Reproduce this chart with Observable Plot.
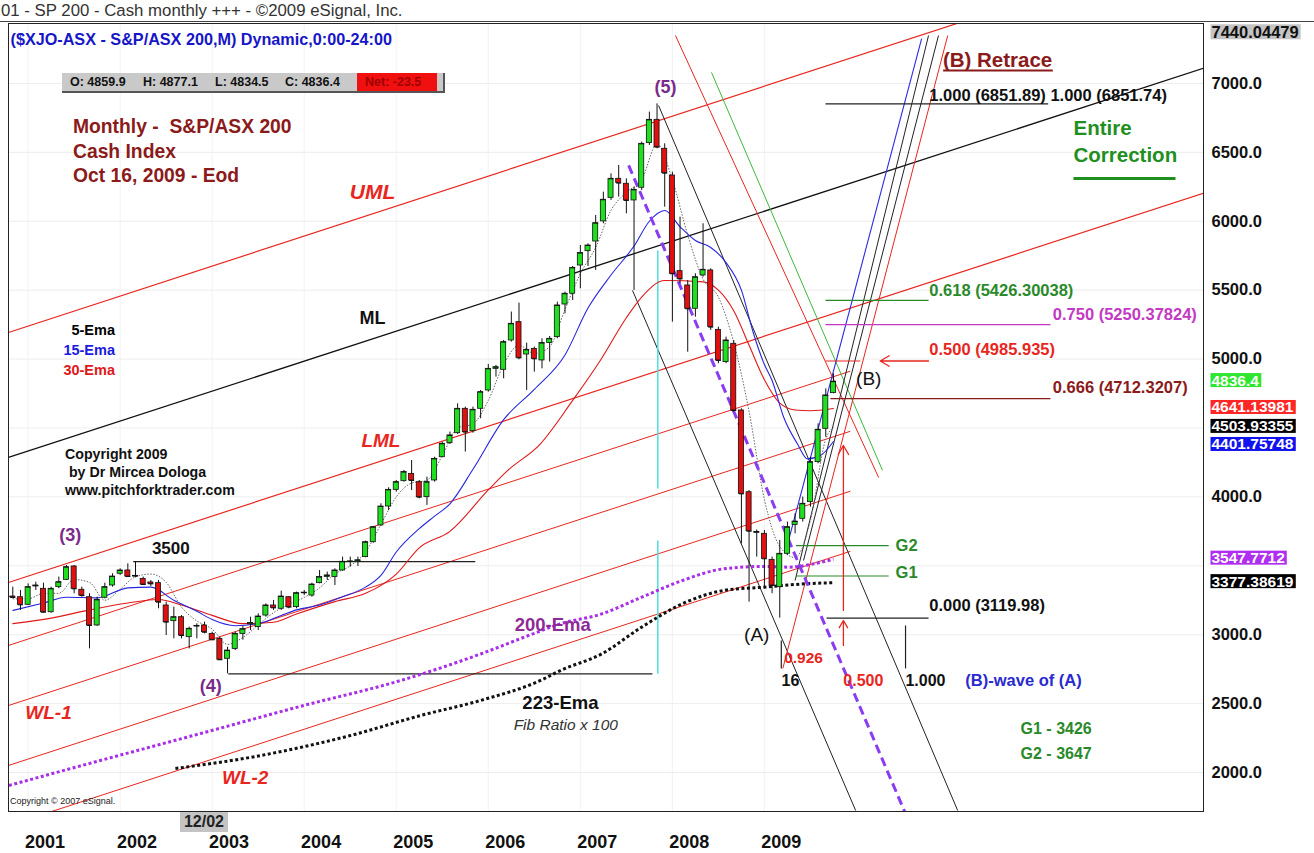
<!DOCTYPE html>
<html><head><meta charset="utf-8">
<script src="https://cdn.jsdelivr.net/npm/d3@7"></script>
<script src="https://cdn.jsdelivr.net/npm/@observablehq/plot@0.6"></script>
<style>
body{margin:0;background:#fff;font-family:"Liberation Sans",Arial,sans-serif;}
#wrap{position:relative;width:1314px;height:853px;overflow:hidden;background:#fff}
#hdr{height:22px;line-height:22px;padding-left:1px;font-size:16.8px;color:#333;border-bottom:1px solid #444;box-sizing:border-box;white-space:nowrap}
#chart{height:831px}
.ov{position:absolute;white-space:nowrap;font-family:"Liberation Sans",Arial,sans-serif}
</style></head>
<body><div id="wrap">
<div id="hdr">01 - SP 200 - Cash monthly +++ - ©2009 eSignal, Inc.</div>
<div id="chart"></div>
<div class="ov" style="left:73px;top:115px;font-weight:bold;font-size:19.3px;color:#8b1a1a;line-height:24.5px">Monthly -&nbsp; S&amp;P/ASX 200<br>Cash Index<br>Oct 16, 2009 - Eod</div>
<div class="ov" style="left:0;width:115px;text-align:right;top:320px;font-weight:bold;font-size:14.5px;line-height:20px"><span style="color:#000">5-Ema</span><br><span style="color:#1a1ae0">15-Ema</span><br><span style="color:#e01818">30-Ema</span></div>
<div class="ov" style="left:65px;top:445px;font-weight:bold;font-size:14.2px;line-height:18px;color:#111">Copyright 2009<br>&nbsp;by Dr Mircea Dologa<br>www.pitchforktrader.com</div>
<div class="ov" style="left:10px;top:796px;font-size:9px;color:#222">Copyright © 2007 eSignal.</div>
<div class="ov" style="left:62px;top:73px;width:381px;height:18px;background:#c9c9c9;border-right:2px solid #555;border-bottom:2px solid #555;font-weight:bold;font-size:12.5px;line-height:18px;color:#111">
<span style="position:absolute;left:8px">O: 4859.9</span><span style="position:absolute;left:81px">H: 4877.1</span><span style="position:absolute;left:153px">L: 4834.5</span><span style="position:absolute;left:223px">C: 4836.4</span><span style="position:absolute;left:295px;width:80px;height:18px;background:#f01010;color:#a00000;padding-left:8px;box-sizing:border-box">Net: -23.5</span></div>
<div class="ov" style="left:180px;top:812px;width:48px;height:20px;background:#c4c4c4;text-align:center;font-family:'Liberation Sans Narrow','Arial Narrow','Liberation Sans',sans-serif;font-weight:bold;font-size:16px;line-height:20px;color:#222">12/02</div>
</div>
<script>
// ---------- DATA (monthly candles, Nov 2000 .. Oct 2009; month index m = i - 2, m=0 is Jan 2001) ----------
const opens = [3277,3272,3217,3350,3333,3163,3345,3398,3495,3326,
3272,3067,3268,3357,3442,3466,3422,3405,3379,3374,
3212,3098,3127,2982,3060,3067,3006,2968,2825,2897,
3006,3075,3055,3139,3212,3188,3272,3200,3301,3284,
3374,3418,3418,3466,3529,3530,3563,3671,3793,3930,
4051,4114,4167,4107,3998,4119,4288,4390,4462,4639,
4477,4639,4772,4929,4922,5135,5268,5033,5074,4990,
5116,5159,5396,5474,5679,5783,5853,5999,6170,6308,
6272,6151,6243,6567,6736,6526,6332,5638,5534,5365,
5607,5643,5212,4978,5111,4627,4034,3740,3732,3543,
3345,3587,3797,3841,3962,4252,4494,4753];
const highs = [3345,3321,3369,3381,3374,3345,3418,3502,3502,3345,
3297,3272,3374,3442,3478,3514,3530,3418,3393,3393,
3236,3200,3139,3055,3079,3091,3018,2982,2909,3018,
3060,3127,3151,3224,3248,3316,3277,3309,3321,3374,
3466,3454,3478,3563,3563,3563,3679,3785,3950,4066,
4119,4192,4264,4119,4143,4288,4397,4470,4675,4651,
4651,4772,4961,4954,5135,5341,5406,5116,5087,5147,
5164,5413,5486,5672,5824,5836,6042,6211,6344,6405,
6308,6248,6574,6792,6852,6562,6356,6030,5570,5619,
5982,5655,5232,5159,5135,4639,4046,3760,3756,3563,
3684,3817,3877,3998,4288,4530,4784,4893];
const lows = [3260,3176,3212,3321,3156,3156,3333,3393,3297,3272,
2897,3060,3260,3345,3430,3418,3413,3357,3350,3188,
2994,2970,2970,2897,2970,3006,2958,2813,2716,2885,
2960,3030,3030,3127,3176,3176,3188,3188,3284,3272,
3369,3393,3357,3461,3490,3495,3558,3664,3785,3901,
4034,4107,4046,3986,3938,4107,4284,4380,4453,4325,
4462,4567,4760,4869,4857,5123,4995,4772,4905,4929,
4978,5147,5328,5425,5510,5672,5643,5982,6151,6175,
6054,5498,6223,6550,6526,6102,5268,5546,5050,5304,
5594,5208,4966,4966,4615,3659,3236,3563,3345,3297,
3120,3575,3732,3817,3925,4240,4433,4748];
const closes = [3270,3217,3345,3357,3163,3333,3381,3490,3333,3284,
3067,3253,3345,3422,3466,3422,3427,3364,3369,3236,
3091,3127,2994,3043,3064,3018,2963,2818,2885,3006,
3040,3085,3132,3212,3195,3277,3200,3301,3305,3364,
3418,3430,3466,3529,3532,3540,3671,3780,3930,4051,
4107,4180,4119,3998,4107,4276,4385,4446,4639,4470,
4632,4760,4929,4941,5123,5256,5009,5067,5002,5116,
5147,5389,5474,5662,5769,5824,5986,6156,6308,6277,
6151,6228,6562,6736,6538,6349,5619,5582,5365,5594,
5648,5232,4990,5135,4627,4022,3751,3745,3551,3357,
3587,3780,3821,3950,4252,4487,4736,4836];

// moving-average lines (month index, value)
const ema5M = [-2,0,2,4,6,8,10,12,14,16,18,20,22,24,26,28,30,32,34,36,38,40,42,44,46,48,50,52,54,56,58,60,62,64,66,68,70,72,74,76,78,80,82,84,86,88,90,92,94,96,98,100,102,104,105];
const ema5V = [3260,3260,3300,3300,3400,3380,3250,3330,3420,3440,3380,3200,3100,3040,2930,2980,3070,3160,3220,3270,3340,3440,3500,3600,3800,4000,4100,4120,4300,4500,4530,4700,4960,5100,5040,5090,5360,5620,5810,6080,6210,6300,6560,6300,5900,5580,5450,5120,4620,3980,3640,3560,3830,4420,4504];
const ema15M = [-2,2,5,9,13,16,19,22,24,27,30,33,35,38,41,44,46,48,51,53,55,58,62,66,70,73,76,79,81,83,85,87,89,91,93,94.5,96,97,98.5,100.3,101.6,103.3,105];
const ema15V = [3176,3230,3272,3267,3340,3345,3250,3170,3110,3065,3080,3140,3180,3215,3275,3345,3430,3600,3770,3860,3950,4200,4560,4780,5030,5370,5610,5820,6000,6078,5960,5860,5810,5700,5500,5200,4960,4845,4580,4385,4276,4300,4402];
const ema30M = [-2,3,8,13,17,20,24,28,32,35,40,44,48,51,55,60,62.5,66.8,71,74.6,78,80,83,88,90,92,94,96,98,100,102,105];
const ema30V = [3080,3120,3180,3230,3255,3215,3140,3080,3090,3150,3240,3300,3440,3630,3750,4050,4190,4385,4700,4990,5300,5450,5570,5560,5500,5350,5100,4850,4680,4630,4625,4641];
const ema200M = [-2.5,9.4,22.5,35.5,48.6,59,66,69.4,74.8,80,85.3,90.7,96,99.2,102.4,105];
const ema200V = [1906,2087,2283,2480,2668,2860,3010,3079,3151,3272,3393,3478,3495,3490,3514,3548];
const ema223M = [19.2,30.3,42,51.2,59,66.8,69.4,74.8,80,85.3,90.7,96,101.3,105];
const ema223V = [2029,2123,2268,2414,2523,2668,2740,2861,3055,3224,3321,3345,3369,3377];

// axis values
const yTicks = [2000,2500,3000,4000,5000,5500,6000,6500,7000];
const gridVals = [2000,2500,3000,3500,4000,4500,5000,5500,6000,6500,7000];
const yearLabels = [2001,2002,2003,2004,2005,2006,2007,2008,2009];
const rightVals = [4836.4,4641.13981,4503.93355,3547.7712,3377.38619];
const rightBg   = ["#2ee62e","#ff2626","#000000","#b02ef0","#000000"];
const blueVal = 4401.75748;
const topVal = 7440.04479;

// drawing tools (pitchfork, fib lines) : month index / price
const segs = [
 {m1:-2.56,p1:5193,m2:153.25,p2:8018,c:"#e8261e",w:1.2},
 {m1:-2.56,p1:4286,m2:153.25,p2:7111,c:"#111",w:1.3},
 {m1:-2.56,p1:3379,m2:153.25,p2:6204,c:"#e8261e",w:1.2},
 {m1:-2.56,p1:2922,m2:107.2,p2:4912,c:"#e8261e",w:1},
 {m1:-2.56,p1:2486,m2:107.2,p2:4476,c:"#e8261e",w:1},
 {m1:-2.56,p1:2051,m2:107.2,p2:4041,c:"#e8261e",w:1},
 {m1:-2.56,p1:1615,m2:107.2,p2:3605,c:"#e8261e",w:1},
 {m1:82.2,p1:6840,m2:121.2,p2:1724,c:"#222",w:1},
 {m1:78.8,p1:5498,m2:107.9,p2:1724,c:"#222",w:1},
 {m1:84.4,p1:7348,m2:110.9,p2:4140,c:"#e8261e",w:1},
 {m1:89.1,p1:7080,m2:111.4,p2:4192,c:"#3cb83c",w:1},
 {m1:98.8,p1:3611,m2:116.5,p2:7326,c:"#2a2ae6",w:1.1},
 {m1:100,p1:3393,m2:117.4,p2:7348,c:"#222",w:1},
 {m1:101.1,p1:3538,m2:118.7,p2:7348,c:"#222",w:1},
 {m1:98.4,p1:2755,m2:119.9,p2:7348,c:"#e8261e",w:1},
 {m1:103.96,p1:6851.89,m2:133.0,p2:6851.89,c:"#222",w:1.2},
 {m1:103.96,p1:5426.3,m2:117.4,p2:5426.3,c:"#2a8a2a",w:1.2},
 {m1:103.96,p1:5250.38,m2:133.3,p2:5250.38,c:"#c23ac2",w:1.2},
 {m1:103.96,p1:4985.94,m2:108.5,p2:4985.94,c:"#e8261e",w:1.2},
 {m1:104.6,p1:4712.32,m2:133.3,p2:4712.32,c:"#8b1a1a",w:1.2},
 {m1:104.1,p1:3119.98,m2:117.4,p2:3119.98,c:"#222",w:1.2},
 {m1:100.1,p1:3647,m2:112.2,p2:3647,c:"#2a8a2a",w:1.2},
 {m1:100.1,p1:3426,m2:112.2,p2:3426,c:"#2a8a2a",w:1.2},
 {m1:13.7,p1:3530,m2:58.3,p2:3530,c:"#222",w:1.2},
 {m1:26.1,p1:2716,m2:81.4,p2:2716,c:"#222",w:1.2},
 {m1:82.1,p1:2716,m2:82.1,p2:3684,c:"#4fdede",w:1.5},
 {m1:82.1,p1:4061,m2:82.1,p2:5788,c:"#4fdede",w:1.5},
 {m1:114.4,p1:2755,m2:114.4,p2:3067,c:"#222",w:1.2},
 {m1:98.2,p1:2755,m2:98.2,p2:2958,c:"#222",w:1.2},
 {m1:119.3,p1:7094,m2:133.6,p2:7094,c:"#8b1a1a",w:2},
 {m1:136.3,p1:6311,m2:149.6,p2:6311,c:"#1f8f1f",w:3}
];
const purpleDash = [{m1:78.3,p1:6405,m2:114.5,p2:1688}];
const arrows = [
 {m1:106.3,p1:3176,m2:106.3,p2:4373},
 {m1:106.3,p1:2922,m2:106.3,p2:3103},
 {m1:117.4,p1:4985.94,m2:111.1,p2:4985.94}
];

// annotations: month index / price
const notes = [
 {t:"UML",m:44.9,p:6209,c:"#e8261e",s:21,st:"italic"},
 {t:"ML",m:44.9,p:5295,c:"#111",s:18},
 {t:"LML",m:46,p:4409,c:"#e8261e",s:19,st:"italic"},
 {t:"WL-1",m:2.66,p:2435,c:"#e8261e",s:19,st:"italic"},
 {t:"WL-2",m:28.3,p:1964,c:"#e8261e",s:19,st:"italic"},
 {t:"(3)",m:5.5,p:3720,c:"#7a2a8a",s:18},
 {t:"3500",m:18.6,p:3626,c:"#111",s:17},
 {t:"(4)",m:23.8,p:2624,c:"#7a2a8a",s:18},
 {t:"200-Ema",m:68.4,p:3067,c:"#8e2a96",s:18.5},
 {t:"223-Ema",m:69.4,p:2501,c:"#111",s:18.5},
 {t:"Fib Ratio x 100",m:70.1,p:2348,c:"#333",s:15.5,st:"italic",w:"normal"},
 {t:"(5)",m:83.1,p:6971,c:"#7a2a8a",s:18},
 {t:"(B) Retrace",m:126.4,p:7167,c:"#8b1a1a",s:20.5},
 {t:"1.000 (6851.89) 1.000 (6851.74)",m:117.5,p:6913,c:"#111",s:16.5,a:"start"},
 {t:"Entire",m:136.3,p:6673,c:"#1f8f1f",s:20.5,a:"start"},
 {t:"Correction",m:136.3,p:6477,c:"#1f8f1f",s:20.5,a:"start"},
 {t:"0.618 (5426.30038)",m:117.5,p:5498,c:"#2a8a2a",s:16.5,a:"start"},
 {t:"0.750 (5250.37824)",m:133.6,p:5324,c:"#c23ac2",s:16.5,a:"start"},
 {t:"0.500 (4985.935)",m:117.5,p:5070,c:"#e8261e",s:16.5,a:"start"},
 {t:"(B)",m:109.6,p:4859,c:"#111",s:19,w:"normal"},
 {t:"0.666 (4712.3207)",m:133.6,p:4794,c:"#8b1a1a",s:16.5,a:"start"},
 {t:"G2",m:113.1,p:3647,c:"#2a8a2a",s:16.5,a:"start"},
 {t:"G1",m:113.1,p:3451,c:"#2a8a2a",s:16.5,a:"start"},
 {t:"0.000 (3119.98)",m:117.5,p:3212,c:"#111",s:16.5,a:"start"},
 {t:"(A)",m:95,p:3001,c:"#111",s:19,w:"normal"},
 {t:"0.926",m:101.1,p:2834,c:"#e8261e",s:15.5},
 {t:"16",m:99.4,p:2668,c:"#111",s:16},
 {t:"0.500",m:108.9,p:2668,c:"#e8261e",s:16},
 {t:"1.000",m:117,p:2668,c:"#111",s:16},
 {t:"(B)-wave of (A)",m:122.2,p:2668,c:"#2a2ad0",s:16.5,a:"start"},
 {t:"G1 - 3426",m:129.4,p:2319,c:"#2a8a2a",s:16,a:"start"},
 {t:"G2 - 3647",m:129.4,p:2138,c:"#2a8a2a",s:16,a:"start"}
];

// ---------- BUILD ----------
const X0 = -2.56, X1 = 153.25;
const candles = opens.map((o,i)=>({m:i-2,o,h:highs[i],l:lows[i],c:closes[i]}));
const zipLine = (M,V)=>M.map((m,i)=>({m,v:V[i]}));
const FONT = "Liberation Sans, Arial, sans-serif";
const textMarks = notes.map(n=>Plot.text([n],{x:"m",y:"p",text:"t",fill:n.c,fontSize:n.s,
  fontWeight:n.w||"bold",fontStyle:n.st||"normal",textAnchor:n.a||"middle",fontFamily:FONT}));

const plot = Plot.plot({
  width:1314,height:831,marginLeft:8,marginRight:111,marginTop:1,marginBottom:42,
  style:{fontFamily:FONT,overflow:"visible",background:"#fff"},
  x:{domain:[X0,X1],axis:null},
  y:{domain:[1717,7435],axis:null},
  marks:[
    Plot.ruleY(gridVals,{stroke:"#e9e9e9",strokeWidth:0.8}),
    Plot.ruleX(yearLabels,{x:d=>(d-2001)*12,stroke:"#efefef",strokeWidth:0.8}),
    Plot.link(segs,{x1:"m1",y1:"p1",x2:"m2",y2:"p2",stroke:d=>d.c,strokeWidth:d=>d.w,clip:true}),
    Plot.line(zipLine(ema223M,ema223V),{x:"m",y:"v",stroke:"#111",strokeWidth:3,strokeDasharray:"3,2.5",strokeLinecap:"butt",curve:"monotone-x"}),
    Plot.line(zipLine(ema200M,ema200V),{x:"m",y:"v",stroke:"#a82ee8",strokeWidth:3,strokeDasharray:"3,2.5",strokeLinecap:"butt",curve:"monotone-x"}),
    Plot.line(zipLine(ema30M,ema30V),{x:"m",y:"v",stroke:"#e01818",strokeWidth:1.1,curve:"monotone-x"}),
    Plot.line(zipLine(ema15M,ema15V),{x:"m",y:"v",stroke:"#2626e0",strokeWidth:1.1,curve:"monotone-x"}),
    Plot.line(zipLine(ema5M,ema5V),{x:"m",y:"v",stroke:"#666",strokeWidth:1,strokeDasharray:"1.5,1.5",strokeLinecap:"butt",curve:"monotone-x"}),
    Plot.link(purpleDash,{x1:"m1",y1:"p1",x2:"m2",y2:"p2",stroke:"#8a3cf0",strokeWidth:3,strokeDasharray:"9,5",strokeLinecap:"butt",clip:true}),
    Plot.arrow(arrows,{x1:"m1",y1:"p1",x2:"m2",y2:"p2",stroke:"#e8261e",strokeWidth:1.3,headLength:12}),
    // candles
    Plot.ruleX(candles,{x:"m",y1:"l",y2:"h",stroke:"#111",strokeWidth:1}),
    Plot.rect(candles,{x1:d=>d.m-0.33,x2:d=>d.m+0.33,y1:"o",y2:"c",fill:d=>d.c>=d.o?"#1ee01e":"#e01010",stroke:"#111",strokeWidth:0.8}),
    Plot.link(candles,{x1:d=>d.m-0.33,x2:d=>d.m+0.33,y1:"c",y2:"c",stroke:"#111",strokeWidth:1}),
    Plot.frame({stroke:"#222",strokeWidth:1}),
    ...textMarks,
    Plot.text(["($XJO-ASX - S&P/ASX 200,M) Dynamic,0:00-24:00"],{frameAnchor:"top-left",dx:2,dy:10,textAnchor:"start",fill:"#1616c8",fontWeight:"bold",fontSize:16.2,fontFamily:FONT}),
    // price axis labels
    Plot.text(yTicks,{x:X1,y:d=>d,text:d=>d.toFixed(1),dx:8,textAnchor:"start",fill:"#111",fontWeight:"bold",fontSize:16.5,fontFamily:FONT}),
    Plot.text([topVal],{x:X1,y:7435,text:d=>String(d),dx:8,dy:9,textAnchor:"start",fill:"#111",fontWeight:"bold",fontSize:16.5,fontFamily:FONT,className:"toplab"}),
    Plot.text(rightVals,{x:X1,y:d=>d,text:d=>String(d),dx:8,dy:-1,textAnchor:"start",fill:"#fff",fontWeight:"bold",fontSize:15.5,fontFamily:FONT,className:"vlab"}),
    Plot.text([blueVal],{x:X1,y:d=>d,text:d=>String(d),dx:8,dy:3,textAnchor:"start",fill:"#fff",fontWeight:"bold",fontSize:15.5,fontFamily:FONT,className:"blab"}),
    // year labels
    Plot.text(yearLabels,{x:d=>(d-2001)*12+2.2,frameAnchor:"bottom",dy:36,text:d=>String(d),fill:"#111",fontWeight:"bold",fontSize:18,fontFamily:"Liberation Sans Narrow, Arial Narrow, Liberation Sans, sans-serif"})
  ]
});
document.getElementById("chart").append(plot);

function boxes(cls, colors){
  let texts = plot.querySelectorAll("."+cls+" text");
  if(!texts.length) texts = plot.querySelectorAll("text."+cls);
  texts.forEach((t,i)=>{
    const b=t.getBBox();
    const r=document.createElementNS("http://www.w3.org/2000/svg","rect");
    r.setAttribute("x",b.x-1); r.setAttribute("y",b.y+1.5);
    r.setAttribute("width",b.width+3); r.setAttribute("height",b.height-3);
    r.setAttribute("fill",colors[i % colors.length]);
    const tr=t.getAttribute("transform"); if(tr) r.setAttribute("transform",tr);
    t.parentNode.insertBefore(r,t);
  });
}
boxes("vlab", rightBg);
boxes("blab", ["#1212ee"]);
boxes("toplab", ["#c4c4c4"]);
</script>
</body></html>
